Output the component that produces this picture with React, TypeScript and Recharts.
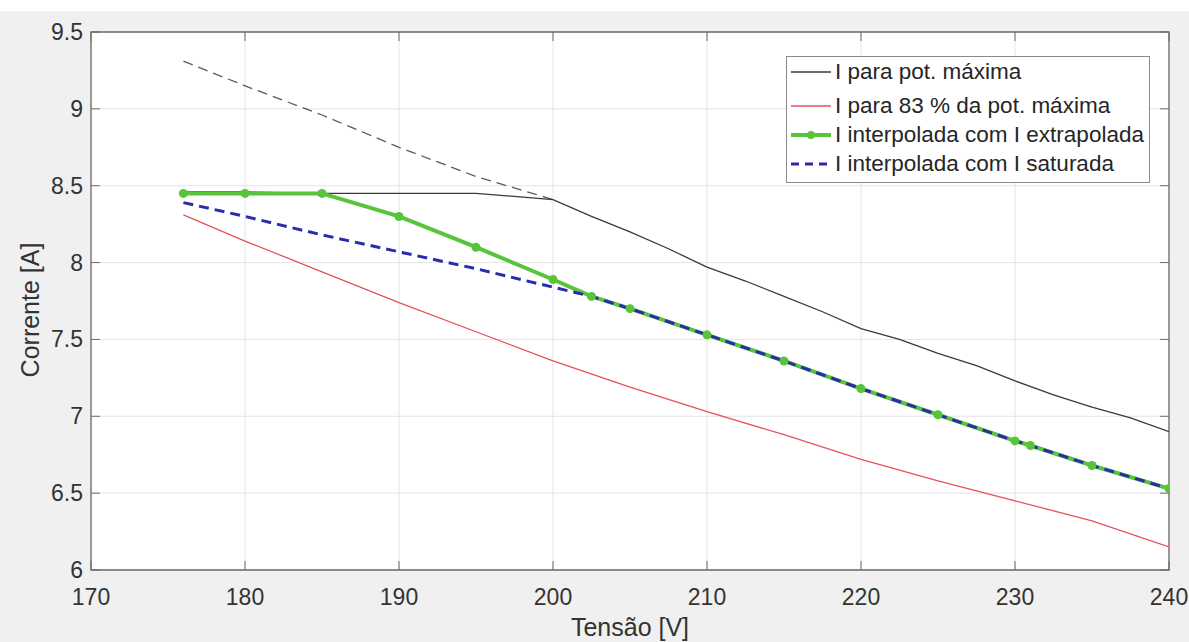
import React from 'react';
import { LineChart, Line, XAxis, YAxis, CartesianGrid, ReferenceArea, Legend } from 'recharts';

// ---- data ----
const xTicks = [170, 180, 190, 200, 210, 220, 230, 240];
const yTicks = [6, 6.5, 7, 7.5, 8, 8.5, 9, 9.5];

const extrapV = [176, 180, 185, 190, 195, 200];
const extrapI = [9.31, 9.15, 8.96, 8.75, 8.56, 8.41];

const maxV = [176, 180, 185, 190, 195, 200, 202.5, 205, 207.5, 210, 212.5, 215, 217.5, 220, 222.5, 225, 227.5, 230, 232.5, 235, 237.5, 240];
const maxI = [8.46, 8.46, 8.45, 8.45, 8.45, 8.41, 8.30, 8.20, 8.09, 7.97, 7.88, 7.78, 7.68, 7.57, 7.50, 7.41, 7.33, 7.23, 7.14, 7.06, 6.99, 6.90];

const p83V = [176, 180, 185, 190, 195, 200, 205, 210, 215, 220, 225, 230, 235, 240];
const p83I = [8.31, 8.14, 7.94, 7.74, 7.55, 7.36, 7.19, 7.03, 6.88, 6.72, 6.58, 6.45, 6.32, 6.15];

const greenV = [176, 180, 185, 190, 195, 200, 202.5, 205, 210, 215, 220, 225, 230, 231, 235, 240];
const greenI = [8.45, 8.45, 8.45, 8.30, 8.10, 7.89, 7.78, 7.70, 7.53, 7.36, 7.18, 7.01, 6.84, 6.81, 6.68, 6.53];

const blueV = [176, 180, 185, 190, 195, 200, 202.5, 205, 210, 215, 220, 225, 230, 231, 235, 240];
const blueI = [8.39, 8.30, 8.18, 8.07, 7.96, 7.84, 7.78, 7.70, 7.53, 7.36, 7.18, 7.01, 6.84, 6.81, 6.68, 6.53];

const legendLabels = [
  'I para pot. máxima',
  'I para 83 % da pot. máxima',
  'I interpolada com I extrapolada',
  'I interpolada com I saturada',
];

const zip = (vs: number[], is: number[]) => vs.map((v, k) => ({ v, i: is[k] }));
const extrapData = zip(extrapV, extrapI);
const maxData = zip(maxV, maxI);
const p83Data = zip(p83V, p83I);
const greenData = zip(greenV, greenI);
const blueData = zip(blueV, blueI);

// ---- styling ----
const FONT = '"Liberation Sans", Arial, Helvetica, sans-serif';
const W = 1189;
const H = 631;
const TOP = 21;
const LEFT = 91;
const RIGHT = 20;
const XAXIS_H = 72;
const PLOT_H = H - TOP - XAXIS_H;
const PLOT_W = W - LEFT - RIGHT;
const TICK_LEN = 9;
const AX = '#6b6b6b';
const TXT = '#333333';

const C_BLACK = '#3a3a3a';
const C_GRAY = '#5a5a5a';
const C_RED = '#e8505c';
const C_GREEN = '#58c43a';
const C_BLUE = '#2b2bb0';

const XTick = (props: any) => {
  const { x, y, payload } = props;
  return (
    <g>
      <line x1={x} x2={x} y1={y} y2={y - TICK_LEN} stroke={AX} />
      <line x1={x} x2={x} y1={y - PLOT_H} y2={y - PLOT_H + TICK_LEN} stroke={AX} />
      <text x={x} y={y + 35} textAnchor="middle" fontSize={23} fill={TXT} fontFamily={FONT}>
        {payload.value}
      </text>
    </g>
  );
};

const YTick = (props: any) => {
  const { x, y, payload } = props;
  return (
    <g>
      <line x1={x} x2={x + TICK_LEN} y1={y} y2={y} stroke={AX} />
      <line x1={x + PLOT_W} x2={x + PLOT_W - TICK_LEN} y1={y} y2={y} stroke={AX} />
      <text x={x - 8} y={y + 8} textAnchor="end" fontSize={23} fill={TXT} fontFamily={FONT}>
        {payload.value}
      </text>
    </g>
  );
};

const rowCenters = [15, 49, 78, 107];

const LegendBox = () => (
  <div
    style={{
      position: 'relative',
      width: 364,
      height: 127,
      boxSizing: 'border-box',
      background: '#ffffff',
      border: '1px solid #8a8a8a',
      fontFamily: FONT,
      fontSize: 22.5,
      color: '#262626',
    }}
  >
    {legendLabels.map((label, k) => (
      <div key={k} style={{ position: 'absolute', left: 0, top: rowCenters[k] - 15, height: 30, width: 364 }}>
        <svg width={46} height={30} style={{ position: 'absolute', left: 2, top: 0 }}>
          {k === 0 && <line x1={2} x2={42} y1={15} y2={15} stroke={C_BLACK} strokeWidth={1.3} />}
          {k === 1 && <line x1={2} x2={42} y1={15} y2={15} stroke={C_RED} strokeWidth={1.3} />}
          {k === 2 && (
            <g>
              <line x1={2} x2={42} y1={15} y2={15} stroke={C_GREEN} strokeWidth={4} />
              <circle cx={22} cy={15} r={4} fill={C_GREEN} />
            </g>
          )}
          {k === 3 && (
            <line x1={2} x2={42} y1={15} y2={15} stroke={C_BLUE} strokeWidth={3} strokeDasharray="8 6" />
          )}
        </svg>
        <span style={{ position: 'absolute', left: 48, top: 0, lineHeight: '30px', whiteSpace: 'nowrap' }}>
          {label}
        </span>
      </div>
    ))}
  </div>
);

const YLabel = (props: any) => {
  const vb = props.viewBox || {};
  const cx = 30;
  const cy = TOP + PLOT_H / 2 + 9;
  return (
    <text
      x={cx}
      y={cy}
      transform={`rotate(-90 ${cx} ${cy})`}
      textAnchor="middle"
      dominantBaseline="central"
      fontSize={25}
      fill={TXT}
      fontFamily={FONT}
    >
      Corrente [A]
    </text>
  );
};

const XLabel = () => (
  <text x={LEFT + PLOT_W / 2} y={625} textAnchor="middle" fontSize={25} fill={TXT} fontFamily={FONT}>
    Tensão [V]
  </text>
);

export default function App() {
  return (
    <div style={{ position: 'absolute', left: 0, top: 0, width: 1189, height: 642, background: '#ffffff' }}>
      <div style={{ position: 'absolute', left: 0, top: 11, width: W, height: H, background: '#f0f0f0' }}>
        <LineChart
          width={W}
          height={H}
          margin={{ top: TOP, right: RIGHT, bottom: 0, left: 0 }}
          style={{ fontFamily: FONT }}
        >
          <CartesianGrid stroke="#e4e4e4" strokeWidth={1} fill="#ffffff" fillOpacity={1} />
          <XAxis
            dataKey="v"
            type="number"
            domain={[170, 240]}
            ticks={xTicks}
            allowDataOverflow
            height={XAXIS_H}
            axisLine={false}
            tickLine={false}
            tickSize={0}
            tickMargin={0}
            tick={<XTick />}
            interval={0}
            label={<XLabel />}
          />
          <YAxis
            type="number"
            domain={[6, 9.5]}
            ticks={yTicks}
            allowDataOverflow
            width={LEFT}
            axisLine={false}
            tickLine={false}
            tickSize={0}
            tickMargin={0}
            tick={<YTick />}
            interval={0}
            label={<YLabel />}
          />
          <ReferenceArea x1={170} x2={240} y1={6} y2={9.5} fill="none" fillOpacity={0} stroke={AX} strokeWidth={1.3} ifOverflow="visible" />
          <Legend
            layout="vertical"
            align="center"
            verticalAlign="middle"
            content={<LegendBox />}
            wrapperStyle={{ position: 'absolute', left: 786, top: 45, width: 364, height: 127 }}
          />
          <Line data={extrapData} dataKey="i" type="linear" stroke={C_GRAY} strokeWidth={1.3} strokeDasharray="10 6" dot={false} isAnimationActive={false} legendType="none" />
          <Line data={maxData} dataKey="i" type="linear" stroke={C_BLACK} strokeWidth={1.3} dot={false} isAnimationActive={false} />
          <Line data={p83Data} dataKey="i" type="linear" stroke={C_RED} strokeWidth={1.3} dot={false} isAnimationActive={false} />
          <Line data={greenData} dataKey="i" type="linear" stroke={C_GREEN} strokeWidth={4} dot={{ r: 4.5, fill: C_GREEN, stroke: C_GREEN, strokeWidth: 0 }} isAnimationActive={false} />
          <Line data={blueData} dataKey="i" type="linear" stroke={C_BLUE} strokeWidth={3} strokeDasharray="10 6" dot={false} isAnimationActive={false} />
        </LineChart>
      </div>
    </div>
  );
}
